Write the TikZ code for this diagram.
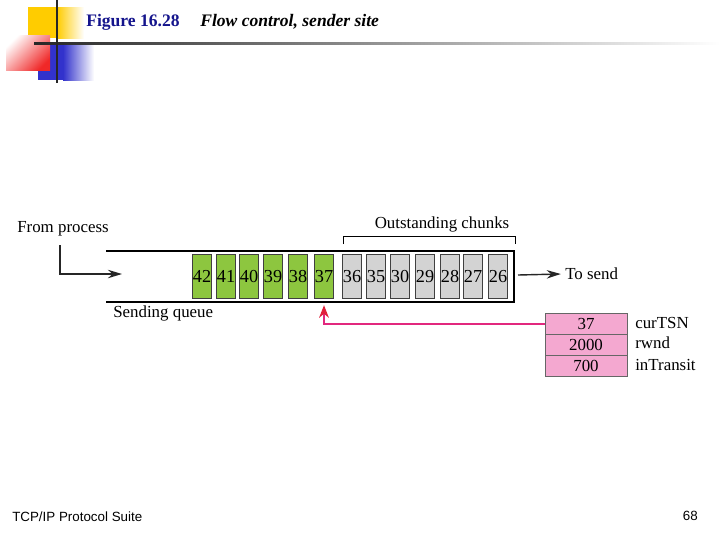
\documentclass[tikz,border=0pt]{standalone}
\usepackage{fontspec}
\setmainfont{Liberation Serif}
\newfontfamily\footfont{Liberation Sans}
\usepackage{xcolor}
\usetikzlibrary{arrows.meta,positioning}
\definecolor{titleblue}{HTML}{14148C}
\definecolor{chunkgreen}{HTML}{8DC63F}
\definecolor{chunkgray}{HTML}{D3D3D3}
\definecolor{tablepink}{HTML}{F4A8D0}
\definecolor{pointerpink}{HTML}{E2287E}
\definecolor{pointerred}{HTML}{E0203A}
\definecolor{decoyellow}{HTML}{FFCC00}
\definecolor{decored}{HTML}{F02828}
\definecolor{decoblue}{HTML}{3232CC}
\tikzset{
    label text/.style={
        inner sep=0pt, font=\fontsize{12}{14}\selectfont
    },
    new chunk/.style={
        rectangle, draw=black!75, fill=chunkgreen, line width=0.5pt,
        minimum width=0.475cm, minimum height=1.1cm, inner sep=0pt,
        font=\fontsize{13}{13}\selectfont
    },
    sent chunk/.style={
        new chunk, fill=chunkgray
    },
    table row/.style={
        rectangle, draw=black!60, fill=tablepink, line width=0.5pt,
        minimum width=2.05cm, minimum height=0.525cm, inner sep=0pt,
        outer sep=0pt, font=\fontsize{12}{12}\selectfont
    },
    data flow/.style={
        -{Stealth[length=10pt, width=6pt]}, line width=1pt, color=black!85
    },
    pointer/.style={
        -{Stealth[length=9pt, width=7pt, color=pointerred]},
        line width=1pt, color=pointerpink
    },
}
\begin{document}
\begin{tikzpicture}[x=0.025cm, y=-0.025cm]
    \useasboundingbox[fill=white] (0,0) rectangle (720,540);

    % Slide header decoration
    \fill[decoyellow] (28,7) rectangle (57,38);
    \shade[left color=decoyellow, right color=white] (57,7) rectangle (84,38);
    \fill[decoblue] (38,43) rectangle (63,80);
    \shade[left color=decoblue, right color=white] (63,43) rectangle (94,80);
    \shade[left color=white, right color=decored, shading angle=45] (6,35) rectangle (50,70);
    \shade[left color=black!85, right color=white] (34,42) rectangle (720,44.5);
    \draw[line width=1.6pt, black!85] (57,0) -- (57,83);

    \node[anchor=west, inner sep=0pt, text=titleblue, font=\fontsize{12.5}{14}\selectfont\bfseries] (fig) at (86,22) {Figure 16.28};
    \node[anchor=west, inner sep=0pt, font=\fontsize{12.5}{14}\selectfont\bfseries\itshape] (caption) at (200,22) {Flow control, sender site};

    % Sending queue
    \coordinate (qtl) at (106,251);
    \coordinate (qtr) at (514,251);
    \coordinate (qbr) at (514,302);
    \coordinate (qbl) at (106,302);
    \draw[line width=0.8pt] (qtl) -- (qtr) -- (qbr) -- (qbl);

    \foreach \n/\x in {42/202, 41/226, 40/249, 39/273, 38/298, 37/324}
        \node[new chunk] (c\n) at (\x,276.5) {\n};
    \foreach \n/\x in {36/352, 35/376, 30/400, 29/425, 28/450, 27/473, 26/498}
        \node[sent chunk] (c\n) at (\x,276.5) {\n};

    \node[label text, anchor=west] (from) at (17,229) {From process};
    \coordinate (qin) at (122,274);
    \draw[data flow] ([xshift=-2pt, yshift=-6pt]from.south) |- (qin);

    \node[label text, anchor=west] (queue) at (113,313) {Sending queue};

    % Outstanding chunks
    \coordinate (bl) at (343,244);
    \coordinate (br) at (515,244);
    \draw[line width=0.7pt] (bl) -- ++(0,-8) -| (br);
    \node[label text] (outst) at (442,224) {Outstanding chunks};

    \coordinate (qout) at (518,275);
    \node[label text, anchor=west] (tosend) at (565,274) {To send};
    \draw[data flow] (qout) -- ([xshift=-3pt]tosend.west);

    % Sender variables
    \node[table row] (cur) at (586,324) {37};
    \node[table row, below=0pt of cur] (rwnd) {2000};
    \node[table row, below=0pt of rwnd] (transit) {700};
    \node[label text, anchor=west] (curlbl) at (635,323) {curTSN};
    \node[label text, anchor=west] (rwndlbl) at (635,343) {rwnd};
    \node[label text, anchor=west] (translbl) at (635,365) {inTransit};

    \draw[pointer, shorten >=4.5pt] (cur.west) -| (c37.south);

    % Footer
    \node[anchor=west, inner sep=0pt, font=\footfont\fontsize{9.5}{11}\selectfont] (suite) at (12,517) {TCP/IP Protocol Suite};
    \node[anchor=east, inner sep=0pt, font=\footfont\fontsize{9.5}{11}\selectfont] (page) at (698,516) {68};
\end{tikzpicture}
\end{document}
